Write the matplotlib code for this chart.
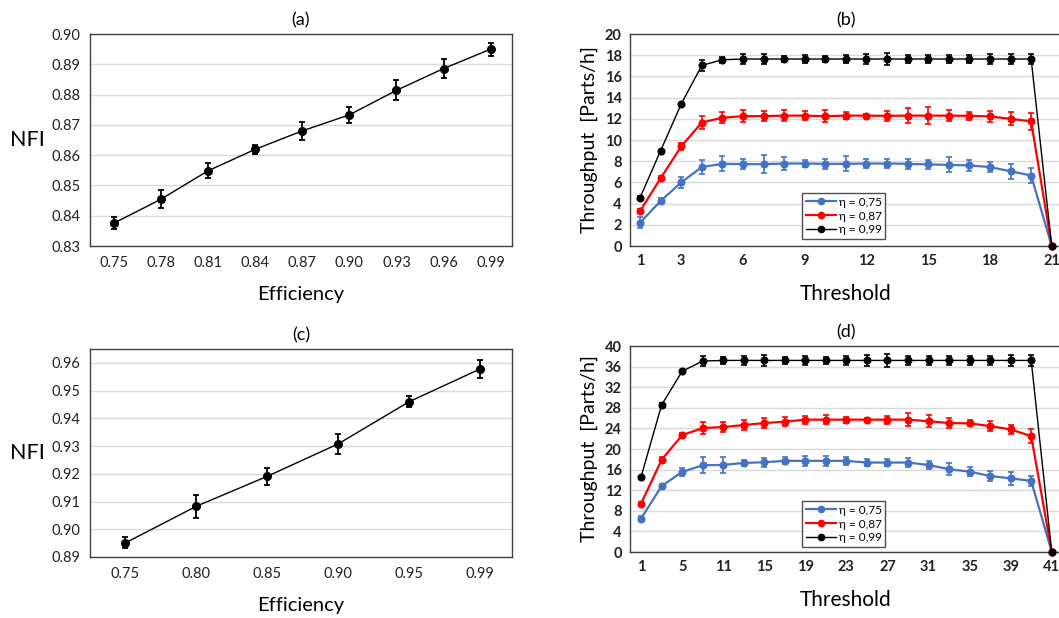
import matplotlib
matplotlib.use("Agg")
import matplotlib.pyplot as plt
from matplotlib.lines import Line2D

plt.rcParams['font.family'] = ['Lato', 'DejaVu Sans']

# ---- panel (a): NFI vs efficiency ----
eff_a = ['0.75', '0.78', '0.81', '0.84', '0.87', '0.90', '0.93', '0.96', '0.99']
nfi_a = [0.8375, 0.8454, 0.8548, 0.8619, 0.8680, 0.8733, 0.8814, 0.8886, 0.8950]
nfi_a_err = [0.0020, 0.0030, 0.0025, 0.0015, 0.0031, 0.0027, 0.0033, 0.0031, 0.0021]

# ---- panel (c): NFI vs efficiency ----
eff_c = ['0.75', '0.80', '0.85', '0.90', '0.95', '0.99']
nfi_c = [0.8951, 0.9083, 0.9191, 0.9308, 0.9460, 0.9578]
nfi_c_err = [0.0020, 0.0041, 0.0031, 0.0035, 0.0020, 0.0034]

# ---- panel (b): throughput vs threshold (21 thresholds) ----
thr_b = list(range(1, 22))
thr_b_ticks = [1, 3, 6, 9, 12, 15, 18, 21]
tp_b_075 = [2.2, 4.25, 6.0, 7.45, 7.75, 7.72, 7.72, 7.78, 7.78, 7.75, 7.75,
            7.78, 7.78, 7.75, 7.7, 7.65, 7.6, 7.45, 7.05, 6.65, 0.0]
tp_b_075_err = [0.5, 0.3, 0.5, 0.7, 0.7, 0.5, 0.85, 0.6, 0.3, 0.5, 0.7,
                0.4, 0.4, 0.5, 0.4, 0.7, 0.5, 0.5, 0.7, 0.7, 0.0]
tp_b_087 = [3.3, 6.4, 9.4, 11.65, 12.1, 12.25, 12.25, 12.3, 12.3, 12.25, 12.3,
            12.3, 12.28, 12.3, 12.3, 12.3, 12.28, 12.22, 12.0, 11.75, 0.0]
tp_b_087_err = [0.2, 0.25, 0.3, 0.6, 0.5, 0.55, 0.5, 0.55, 0.45, 0.55, 0.35,
                0.2, 0.5, 0.7, 0.8, 0.5, 0.4, 0.5, 0.6, 0.8, 0.0]
tp_b_099 = [4.57, 9.0, 13.4, 17.04, 17.57, 17.64, 17.64, 17.64, 17.64, 17.64, 17.64,
            17.64, 17.64, 17.64, 17.64, 17.64, 17.64, 17.64, 17.64, 17.64, 0.0]
tp_b_099_err = [0.1, 0.1, 0.1, 0.5, 0.3, 0.45, 0.5, 0.3, 0.4, 0.3, 0.4,
                0.5, 0.55, 0.4, 0.4, 0.4, 0.4, 0.45, 0.5, 0.45, 0.0]

# ---- panel (d): throughput vs threshold (21 thresholds, odd-tick labels) ----
thr_d = list(range(1, 22))
thr_d_tick_pos = [1, 3, 5, 7, 9, 11, 13, 15, 17, 19, 21]
thr_d_tick_lbl = ['1', '5', '11', '15', '19', '23', '27', '31', '35', '39', '41']
tp_d_075 = [6.5, 12.8, 15.55, 16.85, 16.9, 17.3, 17.43, 17.7, 17.7, 17.7, 17.7,
            17.37, 17.37, 17.37, 16.9, 16.07, 15.6, 14.76, 14.3, 13.8, 0.0]
tp_d_075_err = [0.4, 0.4, 0.7, 1.6, 1.5, 0.6, 0.9, 0.7, 1.0, 1.0, 0.8,
                0.7, 0.7, 0.9, 0.7, 1.2, 0.9, 0.9, 1.2, 1.0, 0.0]
tp_d_087 = [9.4, 17.9, 22.7, 24.07, 24.26, 24.65, 25.04, 25.3, 25.7, 25.7, 25.7,
            25.7, 25.7, 25.7, 25.4, 25.04, 24.98, 24.45, 23.8, 22.5, 0.0]
tp_d_087_err = [0.3, 0.5, 0.5, 1.1, 0.9, 0.9, 0.9, 0.9, 0.8, 0.9, 0.6,
                0.3, 0.8, 1.2, 1.2, 0.9, 0.6, 0.9, 0.9, 1.4, 0.0]
tp_d_099 = [14.6, 28.55, 35.1, 37.07, 37.2, 37.2, 37.2, 37.2, 37.2, 37.2, 37.2,
            37.2, 37.2, 37.2, 37.2, 37.2, 37.2, 37.2, 37.2, 37.2, 0.0]
tp_d_099_err = [0.2, 0.3, 0.3, 1.0, 0.6, 0.9, 1.0, 0.6, 0.8, 0.6, 0.9,
                1.1, 1.2, 0.8, 0.9, 0.8, 0.8, 0.8, 1.0, 1.1, 0.0]

series_labels = ['η = 0,75', 'η = 0,87', 'η = 0,99']
series_colors = ['#4472C4', '#FF0000', '#000000']

W, H = 1059, 618
fig = plt.figure(figsize=(W / 100, H / 100), dpi=100)


def rect(l, t, r, b):
    return [l / W, 1 - b / H, (r - l) / W, (b - t) / H]


GRID = '#d9d9d9'
SPINE = '#404040'


def style_axes(ax):
    ax.set_axisbelow(True)
    ax.yaxis.grid(True, color=GRID, linewidth=1.0)
    for s in ax.spines.values():
        s.set_color(SPINE)
        s.set_linewidth(1.0)
    ax.tick_params(length=0, pad=7, labelsize=10.5, colors='#222222')


def nfi_panel(box, cats, vals, errs, ylim, yticks, title, tick_fmt):
    ax = fig.add_axes(rect(*box))
    style_axes(ax)
    x = list(range(len(cats)))
    ax.errorbar(x, vals, yerr=errs, color='black', linewidth=1.0,
                marker='o', markersize=5.5, elinewidth=1.3, capsize=2.2,
                capthick=1.3)
    ax.set_xticks(x)
    ax.set_xticklabels(cats)
    ax.set_xlim(-0.5, len(cats) - 0.55)
    ax.set_ylim(*ylim)
    ax.set_yticks(yticks)
    ax.set_yticklabels([tick_fmt.format(v) for v in yticks])
    ax.set_title(title, fontsize=13, pad=6)
    ax.set_ylabel('NFI', fontsize=15.5, rotation=0, va='center', ha='center')
    ax.yaxis.set_label_coords(-0.148, 0.5)
    ax.set_xlabel('Efficiency', fontsize=14.5, labelpad=12)
    return ax


def tp_panel(box, xs, series, errs, xlim, ylim, yticks, xtick_pos, xtick_lbl,
             title, leg_box):
    ax = fig.add_axes(rect(*box))
    style_axes(ax)
    for vals, err, col in zip(series, errs, series_colors):
        lw = 1.0 if col == '#000000' else 1.6
        ax.errorbar(xs, vals, yerr=err, color=col, linewidth=lw, marker='o',
                    markersize=4.8, elinewidth=1.2, capsize=2.2, capthick=1.2,
                    clip_on=False, zorder=3)
    ax.set_xlim(*xlim)
    ax.set_ylim(*ylim)
    ax.set_yticks(yticks)
    ax.set_xticks(xtick_pos)
    ax.set_xticklabels(xtick_lbl)
    for lbl in ax.get_xticklabels() + ax.get_yticklabels():
        lbl.set_fontweight('bold')
    ax.tick_params(labelsize=10.5, pad=6)
    ax.set_title(title, fontsize=13, pad=6)
    ax.set_ylabel('Throughput  [Parts/h]', fontsize=14, labelpad=5)
    ax.set_xlabel('Threshold', fontsize=15, labelpad=11)
    handles = [Line2D([0], [0], color=c, marker='o', markersize=4.5,
                      linewidth=1.6 if c != '#000000' else 1.0)
               for c in series_colors]
    leg = ax.legend(handles, series_labels, loc='lower left',
                    bbox_to_anchor=leg_box, bbox_transform=fig.transFigure,
                    fontsize=8.5, frameon=True, fancybox=False,
                    handlelength=2.6, handletextpad=0.2, borderpad=0.3,
                    labelspacing=0.25, borderaxespad=0)
    leg.get_frame().set_edgecolor('#222222')
    leg.get_frame().set_linewidth(1.0)
    return ax


nfi_panel((90, 34, 512, 246), eff_a, nfi_a, nfi_a_err, (0.83, 0.90),
          [0.83 + 0.01 * i for i in range(8)], '(a)', '{:.2f}')
nfi_panel((90, 349, 512, 557), eff_c, nfi_c, nfi_c_err, (0.89, 0.965),
          [0.89 + 0.01 * i for i in range(8)], '(c)', '{:.2f}')

tp_panel((630, 34, 1062, 246), thr_b, [tp_b_075, tp_b_087, tp_b_099],
         [tp_b_075_err, tp_b_087_err, tp_b_099_err], (0.51, 21.5), (0, 20),
         list(range(0, 21, 2)), thr_b_ticks, [str(t) for t in thr_b_ticks],
         '(b)', (802 / W, 1 - 239 / H))
tp_panel((630, 346, 1062, 552), thr_d, [tp_d_075, tp_d_087, tp_d_099],
         [tp_d_075_err, tp_d_087_err, tp_d_099_err], (0.46, 21.5), (0, 40),
         list(range(0, 41, 4)), thr_d_tick_pos, thr_d_tick_lbl,
         '(d)', (802 / W, 1 - 547 / H))

fig.savefig('out.png', dpi=100)
